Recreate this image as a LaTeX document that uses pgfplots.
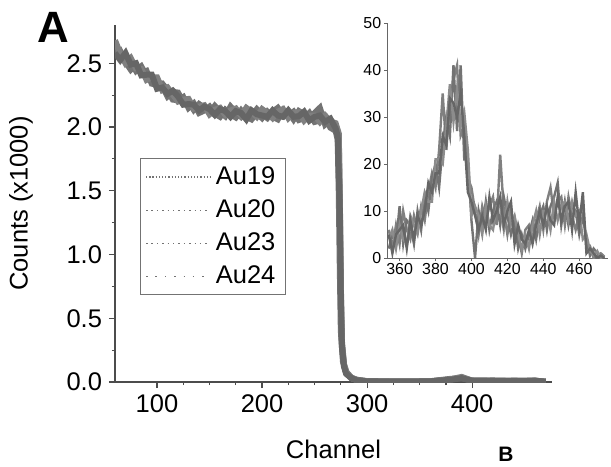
\documentclass[border=0pt]{standalone}
\usepackage{pgfplots}
\pgfplotsset{compat=1.18}
\usepackage{fontspec}
\setmainfont{Liberation Sans}
\definecolor{band}{gray}{0.45}
\definecolor{axc}{gray}{0.3}
\begin{document}
\begin{tikzpicture}
\useasboundingbox (0,0) rectangle (305.5bp,-233.5bp);
\begin{axis}[
  at={(57.5bp,-191bp)}, anchor=south west,
  scale only axis, width=218.5bp, height=178.5bp,
  xmin=60, xmax=476, ymin=0, ymax=2.8,
  axis lines*=left,
  axis line style={axc, line width=0.6bp},
  every tick/.style={axc, line width=0.6bp},
  tick align=outside,
  major tick length=3bp, minor tick length=1.6bp,
  xtick={100,200,300,400}, minor x tick num=3,
  ytick={0,0.5,1,1.5,2,2.5}, minor y tick num=1,
  yticklabel style={/pgf/number format/.cd, fixed, fixed zerofill, precision=1},
  /pgf/number format/assume math mode=true,
  tick label style={font=\fontsize{12.8}{15}\selectfont},
  label style={font=\fontsize{12.8}{15}\selectfont},
  xlabel={Channel}, ylabel={Counts (x1000)},
  xlabel style={at={(axis description cs:0.5,-0.19)}, anchor=center},
  ylabel style={at={(axis description cs:-0.215,0.5)}, anchor=center, rotate=0},
  legend style={at={(0.057,0.627)}, anchor=north west, draw=black!55, line width=0.5bp,
    font=\fontsize{12.8}{15}\selectfont, inner xsep=2.5bp, inner ysep=2bp, row sep=2.2bp,
    nodes={inner xsep=2.5bp}},
  legend cell align=left,
]
\addplot[band, line width=3bp, legend image code/.code={\draw[black!55, line width=0.6bp, densely dotted] (0bp,0bp) -- (32bp,0bp);}] coordinates {
(60,2.65)(65,2.545)(70,2.56)(75,2.51)(80,2.44)(85,2.475)(90,2.40)(95,2.35)(100,2.37)(105,2.32)
(110,2.24)(115,2.275)(120,2.27)(125,2.195)(130,2.20)(135,2.135)(140,2.18)(145,2.15)(150,2.11)(155,2.165)
(160,2.12)(165,2.085)(170,2.16)(175,2.115)(180,2.08)(185,2.13)(190,2.09)(195,2.14)(200,2.10)(205,2.07)
(210,2.12)(215,2.15)(220,2.09)(225,2.12)(230,2.06)(235,2.125)(240,2.10)(245,2.06)(250,2.11)(255,2.15)
(260,2.02)(265,2.055)(270,2.00)(273,1.92)(274,1.4)(275,0.7)(276,0.3)(278,0.13)(280,0.07)(285,0.03)
(290,0.015)(300,0.006)(320,0.004)(340,0.003)(360,0.005)(380,0.02)(390,0.035)(400,0.01)(420,0.01)(440,0.008)(460,0.01)(470,0.002)};
\addlegendentry{Au19}
\addplot[black!55, line width=3bp, legend image code/.code={\draw[black!55, line width=0.7bp, dotted] (0bp,0bp) -- (32bp,0bp);}] coordinates {
(60,2.56)(65,2.595)(70,2.51)(75,2.45)(80,2.49)(85,2.425)(90,2.44)(95,2.34)(100,2.33)(105,2.34)
(110,2.29)(115,2.215)(120,2.21)(125,2.235)(130,2.15)(135,2.185)(140,2.11)(145,2.13)(150,2.16)(155,2.105)
(160,2.08)(165,2.135)(170,2.10)(175,2.075)(180,2.13)(185,2.08)(190,2.06)(195,2.11)(200,2.07)(205,2.12)
(210,2.08)(215,2.06)(220,2.13)(225,2.09)(230,2.12)(235,2.055)(240,2.07)(245,2.11)(250,2.04)(255,2.05)
(260,2.07)(265,1.995)(270,1.97)(272,1.90)(273,1.5)(274,0.9)(275,0.4)(277,0.16)(280,0.08)(285,0.035)
(290,0.018)(300,0.007)(320,0.005)(340,0.004)(360,0.006)(380,0.025)(390,0.03)(400,0.012)(420,0.009)(440,0.01)(460,0.009)(470,0.003)};
\addlegendentry{Au20}
\addplot[black!50, line width=3bp, legend image code/.code={\draw[black!55, line width=0.7bp, dotted] (0bp,0bp) -- (32bp,0bp);}] coordinates {
(60,2.68)(65,2.575)(70,2.50)(75,2.54)(80,2.46)(85,2.455)(90,2.37)(95,2.39)(100,2.39)(105,2.29)
(110,2.31)(115,2.255)(120,2.20)(125,2.215)(130,2.22)(135,2.145)(140,2.16)(145,2.17)(150,2.10)(155,2.135)
(160,2.15)(165,2.095)(170,2.13)(175,2.145)(180,2.09)(185,2.15)(190,2.12)(195,2.08)(200,2.14)(205,2.11)
(210,2.07)(215,2.12)(220,2.14)(225,2.07)(230,2.11)(235,2.115)(240,2.05)(245,2.09)(250,2.09)(255,2.04)
(260,2.09)(265,2.045)(270,2.03)(273,1.95)(274,1.45)(275,0.75)(276,0.32)(278,0.14)(281,0.06)(286,0.028)
(292,0.013)(300,0.006)(320,0.004)(340,0.004)(360,0.004)(380,0.022)(390,0.04)(400,0.01)(420,0.011)(440,0.009)(460,0.01)(470,0.002)};
\addlegendentry{Au23}
\addplot[black!60, line width=3bp, legend image code/.code={\draw[black!55, line width=0.7bp, loosely dotted] (0bp,0bp) -- (32bp,0bp);}] coordinates {
(60,2.58)(65,2.525)(70,2.58)(75,2.49)(80,2.50)(85,2.405)(90,2.41)(95,2.41)(100,2.30)(105,2.31)
(110,2.26)(115,2.285)(120,2.24)(125,2.175)(130,2.18)(135,2.175)(140,2.13)(145,2.16)(150,2.14)(155,2.095)
(160,2.14)(165,2.125)(170,2.08)(175,2.125)(180,2.11)(185,2.06)(190,2.13)(195,2.10)(200,2.09)(205,2.08)
(210,2.13)(215,2.09)(220,2.08)(225,2.13)(230,2.08)(235,2.085)(240,2.12)(245,2.05)(250,2.08)(255,2.09)
(260,2.04)(265,2.065)(270,1.99)(272,1.93)(274,1.35)(275,0.65)(276,0.28)(278,0.12)(280,0.065)(285,0.03)
(290,0.014)(300,0.005)(320,0.003)(340,0.003)(360,0.005)(380,0.018)(390,0.03)(400,0.009)(420,0.01)(440,0.008)(460,0.011)(470,0.002)};
\addlegendentry{Au24}
\end{axis}
\begin{axis}[
  at={(193.5bp,-129bp)}, anchor=south west,
  scale only axis, width=110.5bp, height=117.5bp,
  xmin=353, xmax=476, ymin=0, ymax=50,
  axis lines*=left,
  axis line style={black!60, line width=0.5bp},
  every tick/.style={black!60, line width=0.5bp},
  tick align=outside, major tick length=1.5bp,
  xtick={360,380,...,460}, ytick={0,10,...,50},
  /pgf/number format/assume math mode=true,
  tick label style={font=\fontsize{8}{9.6}\selectfont, inner sep=1.2bp},
]
\addplot[black!50, line width=1.2bp] coordinates {
(354,6)(356,2)(358,7)(360,3)(362,10)(364,6)(366,4)(368,9)(370,6)(372,11)(374,8)(376,14)(378,18)(380,15)
(382,23)(384,35)(386,23)(388,33)(390,38)(392,41)(394,26)(396,28)(398,17)(400,15)(402,10)(404,5)(406,11)
(408,8)(410,11)(412,13)(414,7)(416,22)(418,10)(420,5)(422,10)(424,5)(426,5)(428,1)(430,6)(432,7)(434,4)
(436,8)(438,11)(440,6)(442,12)(444,15)(446,9)(448,12)(450,13)(452,7)(454,13)(456,9)(458,6)(460,9)(462,12)
(464,2)(466,2.5)(468,0)(470,0.5)(472,1)(474,0.3)};
\addplot[black!55, line width=1.2bp] coordinates {
(354,2)(356,5)(358,3)(360,11)(362,3)(364,8)(366,7)(368,3)(370,10)(372,6)(374,13)(376,10)(378,17)(380,20)
(382,15)(384,24)(386,30)(388,26)(390,41)(392,27)(394,41)(396,21)(398,21)(400,8)(402,0)(404,10)(406,6)
(408,12)(410,6)(412,10)(414,12)(416,7)(418,13)(420,9)(422,5)(424,8)(426,2)(428,5)(430,2)(432,5)(434,8)
(436,4)(438,9)(440,11)(442,6)(444,11)(446,13)(448,16)(450,7)(452,12)(454,7)(456,11)(458,10)(460,5)(462,9)
(464,4)(466,0.5)(468,2)(470,1)(472,0.2)(474,0)};
\addplot[black!45, line width=1.2bp] coordinates {
(354,4)(356,6)(358,2)(360,7)(362,4)(364,3)(366,9)(368,7)(370,5)(372,10)(374,14)(376,12)(378,12)(380,21)
(382,21)(384,20)(386,28)(388,37)(390,29)(392,36)(394,28)(396,31)(398,23)(400,9)(402,11)(404,9)(406,5)
(408,11)(410,7)(412,6)(414,11)(416,11)(418,6)(420,12)(422,7)(424,9)(426,5)(428,2)(430,5)(432,2)(434,7)
(436,10)(438,5)(440,10)(442,10)(444,6)(446,12)(448,8)(450,11)(452,12)(454,8)(456,12)(458,9)(460,10)(462,4)
(464,5)(466,1.5)(468,0.5)(470,1.5)(472,0)(474,0.5)};
\addplot[black!60, line width=1.2bp] coordinates {
(354,5)(356,1)(358,5)(360,6)(362,7)(364,2)(366,8)(368,4)(370,9)(372,7)(374,10)(376,16)(378,14)(380,18)
(382,18)(384,26)(386,24)(388,34)(390,33)(392,30)(394,35)(396,26)(398,14)(400,12)(402,9)(404,6)(406,9)
(408,6)(410,13)(412,8)(414,10)(416,13)(418,7)(420,10)(422,12)(424,3)(426,7)(428,4)(430,3)(432,6)(434,3)
(436,7)(438,10)(440,7)(442,11)(444,8)(446,7)(448,13)(450,8)(452,11)(454,12)(456,6)(458,14)(460,7)(462,14)
(464,1)(466,2)(468,1)(470,0)(472,0.5)(474,0)};
\end{axis}
\node[font=\fontsize{22}{26}\selectfont\bfseries, anchor=center] at (26.5bp,-13.5bp) {A};
\node[font=\fontsize{10.5}{12}\selectfont\bfseries, anchor=base west, inner sep=0pt] at (249bp,-230.5bp) {B};
\end{tikzpicture}
\end{document}
